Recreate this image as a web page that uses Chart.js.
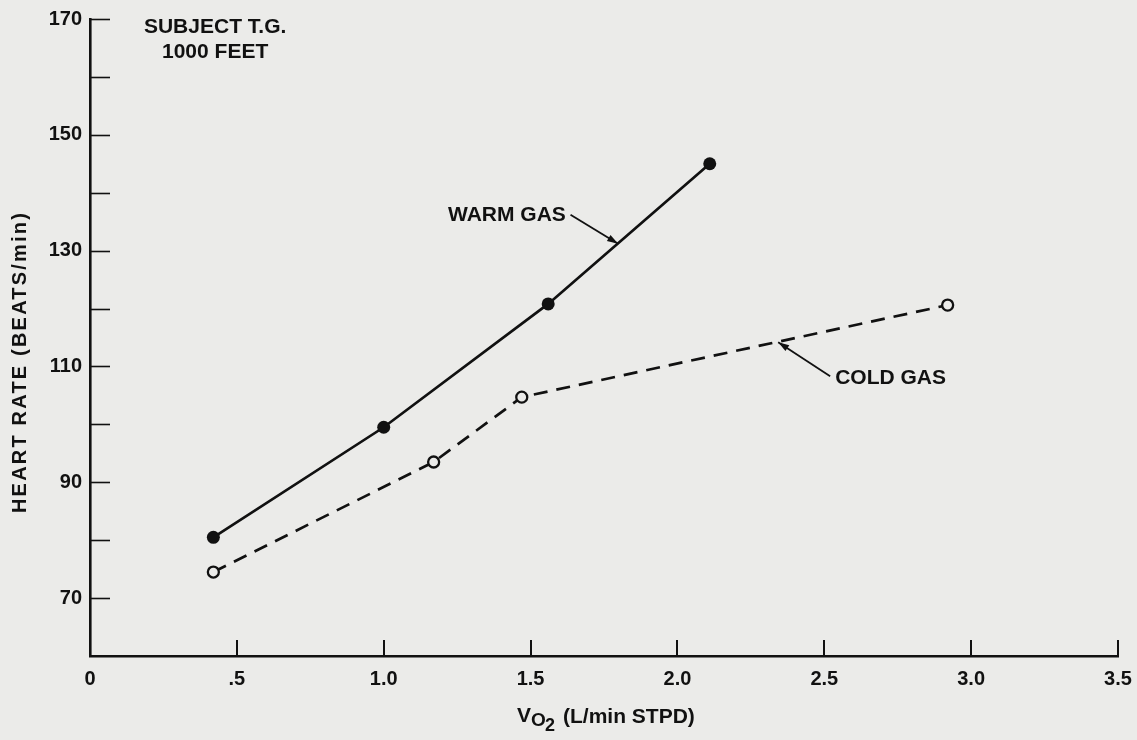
<!DOCTYPE html>
<html>
<head>
<meta charset="utf-8">
<title>Heart rate vs VO2</title>
<script src="https://cdn.jsdelivr.net/npm/chart.js@4.4.1/dist/chart.umd.min.js"></script>
<style>
  html, body { margin: 0; padding: 0; background: #ebebe9; }
  #wrap { width: 1137px; height: 740px; }
</style>
</head>
<body>
<div id="wrap"><canvas id="c" width="1137" height="740"></canvas></div>
<script>
// Oxygen uptake (L/min STPD) and heart rate (beats/min), subject T.G. at 1000 feet
const warmVO2 = [0.42, 1.00, 1.56, 2.11];
const warmHR  = [80.5, 99.5, 120.8, 145.0];
const coldVO2 = [0.42, 1.17, 1.47, 2.92];
const coldHR  = [74.5, 93.5, 104.7, 120.6];

const xTickValues = [0, 0.5, 1.0, 1.5, 2.0, 2.5, 3.0, 3.5];
const xTickLabels = ['0', '.5', '1.0', '1.5', '2.0', '2.5', '3.0', '3.5'];
const yTickLabels = ['70', '90', '110', '130', '150', '170'];

const INK = '#111111';
const PAPER = '#ebebe9';
const FONT = '"Liberation Sans", Arial, sans-serif';

const toPoints = (xs, ys) => xs.map((x, i) => ({ x: x, y: ys[i] }));

// Axis ticks, annotations and titles drawn on top of the chart
const decorations = {
  id: 'decorations',
  afterDraw(chart) {
    const { ctx, chartArea, scales } = chart;
    const xs = scales.x, ys = scales.y;
    const px = v => xs.getPixelForValue(v);
    const py = v => ys.getPixelForValue(v);
    ctx.save();
    ctx.strokeStyle = INK;
    ctx.fillStyle = INK;

    // inward tick marks on the y axis, every 10 beats/min
    ctx.lineWidth = 1.6;
    for (let v = 70; v <= 170; v += 10) {
      const y = Math.round(py(v)) + 0.5;
      ctx.beginPath();
      ctx.moveTo(chartArea.left, y);
      ctx.lineTo(chartArea.left + 20, y);
      ctx.stroke();
    }
    // inward tick marks on the x axis
    ctx.lineWidth = 2;
    xTickValues.slice(1).forEach(v => {
      const x = Math.round(px(v));
      ctx.beginPath();
      ctx.moveTo(x, chartArea.bottom);
      ctx.lineTo(x, chartArea.bottom - 16);
      ctx.stroke();
    });

    // subject note
    ctx.font = 'bold 21px ' + FONT;
    ctx.textAlign = 'center';
    ctx.textBaseline = 'middle';
    ctx.fillText('SUBJECT T.G.', px(0.426), py(168.6));
    ctx.fillText('1000 FEET', px(0.426), py(164.3));

    // series labels with leader arrows
    function arrow(x1, y1, x2, y2) {
      const a = px(x1), b = py(y1), c = px(x2), d = py(y2);
      ctx.lineWidth = 1.8;
      ctx.beginPath();
      ctx.moveTo(a, b);
      ctx.lineTo(c, d);
      ctx.stroke();
      const ang = Math.atan2(d - b, c - a);
      const L = 11, W = 3.5;
      ctx.beginPath();
      ctx.moveTo(c, d);
      ctx.lineTo(c - L * Math.cos(ang) + W * Math.sin(ang), d - L * Math.sin(ang) - W * Math.cos(ang));
      ctx.lineTo(c - L * Math.cos(ang) - W * Math.sin(ang), d - L * Math.sin(ang) + W * Math.cos(ang));
      ctx.closePath();
      ctx.fill();
    }
    ctx.font = 'bold 21px ' + FONT;
    ctx.textAlign = 'right';
    ctx.fillText('WARM GAS', px(1.62), py(136.2));
    arrow(1.636, 136.2, 1.798, 131.2);

    ctx.textAlign = 'left';
    ctx.fillText('COLD GAS', px(2.537), py(108.0));
    arrow(2.52, 108.3, 2.343, 114.2);

    // x axis title: VO2 (L/min STPD)
    const tx = 517, ty = 715;
    ctx.textAlign = 'left';
    ctx.textBaseline = 'alphabetic';
    ctx.font = 'bold 21px ' + FONT;
    ctx.fillText('V', tx, ty + 7);
    ctx.font = 'bold 19px ' + FONT;
    ctx.fillText('O', tx + 14, ty + 11);
    ctx.font = 'bold 18px ' + FONT;
    ctx.fillText('2', tx + 28, ty + 16);
    ctx.font = 'bold 21px ' + FONT;
    ctx.fillText('(L/min STPD)', tx + 46, ty + 8);

    // y axis title
    ctx.save();
    ctx.translate(20, 362);
    ctx.rotate(-Math.PI / 2);
    ctx.textAlign = 'center';
    ctx.textBaseline = 'middle';
    ctx.font = 'bold 20px ' + FONT;
    ctx.letterSpacing = '2.2px';
    ctx.fillText('HEART RATE (BEATS/min)', 0, 0);
    ctx.restore();

    ctx.restore();
  }
};

const paper = {
  id: 'paper',
  beforeDraw(chart) {
    const { ctx, width, height } = chart;
    ctx.save();
    ctx.fillStyle = PAPER;
    ctx.fillRect(0, 0, width, height);
    ctx.restore();
  }
};

new Chart(document.getElementById('c'), {
  type: 'scatter',
  data: {
    datasets: [
      {
        label: 'WARM GAS',
        data: toPoints(warmVO2, warmHR),
        showLine: true,
        borderColor: INK,
        borderWidth: 2.7,
        pointRadius: 6.5,
        pointBackgroundColor: INK,
        pointBorderColor: INK,
        pointBorderWidth: 0
      },
      {
        label: 'COLD GAS',
        data: toPoints(coldVO2, coldHR),
        showLine: true,
        borderColor: INK,
        borderWidth: 2.7,
        borderDash: [14, 9],
        pointRadius: 5.5,
        pointBackgroundColor: PAPER,
        pointBorderColor: INK,
        pointBorderWidth: 2.3
      }
    ]
  },
  options: {
    responsive: false,
    animation: false,
    events: [],
    layout: { padding: { left: 0, top: 19, right: 19, bottom: 0 } },
    plugins: {
      legend: { display: false },
      tooltip: { enabled: false }
    },
    scales: {
      x: {
        type: 'linear',
        min: 0,
        max: 3.5,
        afterFit: s => { s.height = 84; s.paddingLeft = 0; s.paddingRight = 0; },
        afterBuildTicks: s => { s.ticks = xTickValues.map(v => ({ value: v })); },
        grid: { display: false, drawTicks: false },
        border: { display: true, color: INK, width: 2.6 },
        ticks: {
          color: INK,
          padding: 11,
          maxRotation: 0,
          autoSkip: false,
          font: { family: FONT, size: 20, weight: 'bold' },
          callback: v => {
            const i = xTickValues.indexOf(v);
            return i >= 0 ? xTickLabels[i] : '';
          }
        }
      },
      y: {
        type: 'linear',
        min: 60,
        max: 170,
        afterFit: s => { s.width = 90; s.paddingTop = 0; s.paddingBottom = 0; },
        grid: { display: false, drawTicks: false },
        border: { display: true, color: INK, width: 2.6 },
        ticks: {
          color: INK,
          padding: 8,
          stepSize: 10,
          autoSkip: false,
          font: { family: FONT, size: 20, weight: 'bold' },
          callback: v => (yTickLabels.indexOf(String(v)) >= 0 ? String(v) : '')
        }
      }
    }
  },
  plugins: [paper, decorations]
});
</script>
</body>
</html>
